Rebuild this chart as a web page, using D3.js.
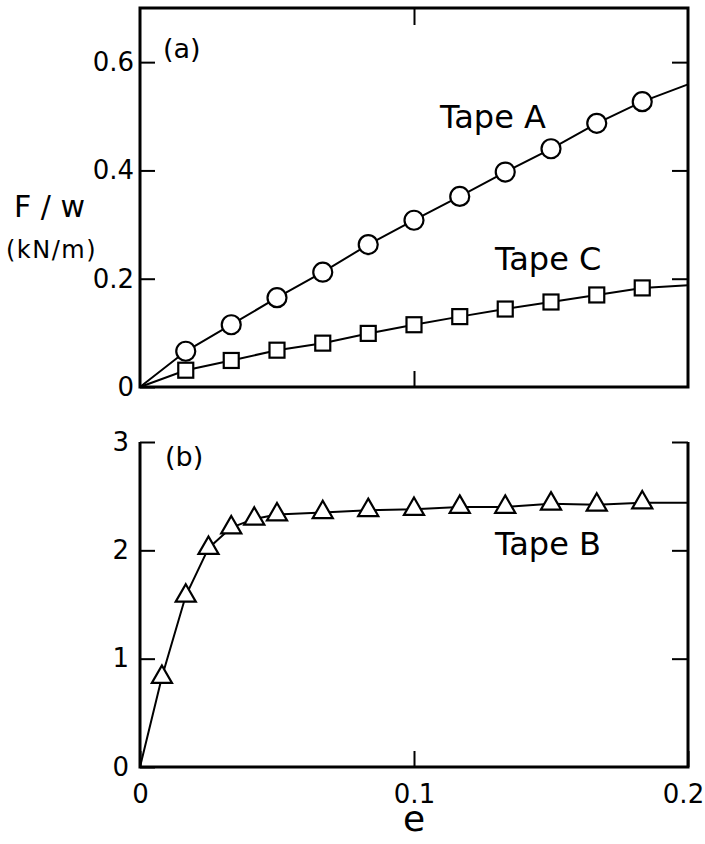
<!DOCTYPE html>
<html>
<head>
<meta charset="utf-8">
<script src="https://cdn.jsdelivr.net/npm/d3@7"></script>
<style>
  body { margin: 0; background: #fff; }
  svg text { font-family: "DejaVu Sans", sans-serif; fill: #000; }
</style>
</head>
<body>
<div id="chart"></div>
<script>
// strain values (e) of the markers
const eAC = [0.0167, 0.0333, 0.05, 0.0667, 0.0833, 0.1, 0.1167, 0.1333, 0.15, 0.1667, 0.1833];
const eB = [0.008, 0.0167, 0.025, 0.0333, 0.0417, 0.05, 0.0667, 0.0833, 0.1, 0.1167, 0.1333, 0.15, 0.1667, 0.1833];

// F/w in kN/m
const tapeA = [0.066, 0.115, 0.165, 0.212, 0.263, 0.308, 0.352, 0.397, 0.440, 0.487, 0.527];
const tapeC = [0.031, 0.049, 0.068, 0.081, 0.099, 0.115, 0.130, 0.144, 0.157, 0.170, 0.183];
const tapeB = [0.83, 1.58, 2.02, 2.21, 2.29, 2.33, 2.35, 2.37, 2.38, 2.40, 2.40, 2.43, 2.42, 2.44];

// where the drawn lines leave the frame at e = 0.2
const lineEnd = {A: 0.559, C: 0.188, B: 2.44};

// ticks
const xTicks = [0, 0.1, 0.2];
const yTicksA = [0, 0.2, 0.4, 0.6];
const yTicksB = [0, 1, 2, 3];

const width = 705, height = 844;

const svg = d3.select("#chart")
  .append("svg")
  .attr("width", width)
  .attr("height", height);

// scales
const x = d3.scaleLinear().domain([0, 0.2]).range([140, 688]);
const yA = d3.scaleLinear().domain([0, 0.7]).range([387, 8]);
const yB = d3.scaleLinear().domain([0, 3]).range([767, 442]);

const tickFmt = d => d === 0 ? "0" : d3.format("")(d);

function styleAxis(g, fs) {
  g.select(".domain").remove();
  g.selectAll(".tick line").attr("stroke", "#000").attr("stroke-width", 2);
  g.selectAll(".tick text").attr("font-size", fs).attr("fill", "#000")
    .style("font-family", '"DejaVu Sans", sans-serif');
}

//---------- panel (a)
svg.append("rect")
  .attr("x", x(0)).attr("y", yA(0.7))
  .attr("width", x(0.2) - x(0)).attr("height", yA(0) - yA(0.7))
  .attr("fill", "none").attr("stroke", "#000").attr("stroke-width", 3);

svg.append("g")
  .attr("transform", `translate(${x(0)},0)`)
  .call(d3.axisLeft(yA).tickValues(yTicksA).tickSize(-15).tickPadding(6).tickFormat(tickFmt))
  .call(g => styleAxis(g, 26));

svg.append("g")
  .attr("transform", `translate(${x(0.2)},0)`)
  .call(d3.axisRight(yA).tickValues(yTicksA.slice(1)).tickSize(-16).tickFormat(""))
  .call(g => styleAxis(g, 26));

svg.append("g")
  .attr("transform", `translate(0,${yA(0.7)})`)
  .call(d3.axisTop(x).tickValues([0.1]).tickSize(-17).tickFormat(""))
  .call(g => styleAxis(g, 26));

svg.append("g")
  .attr("transform", `translate(0,${yA(0)})`)
  .call(d3.axisBottom(x).tickValues([0.1]).tickSize(-16).tickFormat(""))
  .call(g => styleAxis(g, 26));

const lineA = d3.line().x(d => x(d[0])).y(d => yA(d[1]));

const ptsA = eAC.map((e, i) => [e, tapeA[i]]);
const ptsC = eAC.map((e, i) => [e, tapeC[i]]);

svg.append("path")
  .datum([[0, 0], ...ptsA, [0.2, lineEnd.A]])
  .attr("d", lineA)
  .attr("fill", "none").attr("stroke", "#000").attr("stroke-width", 2);

svg.append("path")
  .datum([[0, 0], ...ptsC, [0.2, lineEnd.C]])
  .attr("d", lineA)
  .attr("fill", "none").attr("stroke", "#000").attr("stroke-width", 2);

svg.selectAll(".ptA")
  .data(ptsA)
  .enter().append("circle")
  .attr("class", "ptA")
  .attr("cx", d => x(d[0])).attr("cy", d => yA(d[1]))
  .attr("r", 9.5)
  .attr("fill", "#fff").attr("stroke", "#000").attr("stroke-width", 2.2);

svg.selectAll(".ptC")
  .data(ptsC)
  .enter().append("rect")
  .attr("class", "ptC")
  .attr("x", d => x(d[0]) - 7.5).attr("y", d => yA(d[1]) - 7.5)
  .attr("width", 15).attr("height", 15)
  .attr("fill", "#fff").attr("stroke", "#000").attr("stroke-width", 2.2);

svg.append("text").attr("x", 163).attr("y", 58).attr("font-size", 27).text("(a)");
svg.append("text").attr("x", 440).attr("y", 128).attr("font-size", 32).text("Tape A");
svg.append("text").attr("x", 495).attr("y", 270).attr("font-size", 32).text("Tape C");

// y label
svg.append("text").attr("x", 14).attr("y", 217).attr("font-size", 30).text("F / w");
svg.append("text").attr("x", 6).attr("y", 258).attr("font-size", 24)
  .attr("letter-spacing", 1.5).text("(kN/m)");

//---------- panel (b)
svg.append("path")
  .attr("d", `M${x(0)},${yB(3)}V${yB(0)}H${x(0.2)}V${yB(3)}`)
  .attr("fill", "none").attr("stroke", "#000").attr("stroke-width", 3);

svg.append("g")
  .attr("transform", `translate(${x(0)},0)`)
  .call(d3.axisLeft(yB).tickValues(yTicksB).tickSize(-15).tickPadding(11).tickFormat(tickFmt))
  .call(g => styleAxis(g, 26));

svg.append("g")
  .attr("transform", `translate(${x(0.2)},0)`)
  .call(d3.axisRight(yB).tickValues(yTicksB.slice(1)).tickSize(-16).tickFormat(""))
  .call(g => styleAxis(g, 26));

svg.append("g")
  .attr("transform", `translate(0,${yB(0)})`)
  .call(d3.axisBottom(x).tickValues(xTicks).tickSize(-16).tickPadding(18).tickFormat(tickFmt))
  .call(g => styleAxis(g, 26))
  .call(g => g.selectAll(".tick text").filter(d => d === 0.2).attr("dx", -5));

const lineB = d3.line().x(d => x(d[0])).y(d => yB(d[1]));
const ptsB = eB.map((e, i) => [e, tapeB[i]]);

svg.append("path")
  .datum([[0, 0], ...ptsB, [0.2, lineEnd.B]])
  .attr("d", lineB)
  .attr("fill", "none").attr("stroke", "#000").attr("stroke-width", 2);

svg.selectAll(".ptB")
  .data(ptsB)
  .enter().append("path")
  .attr("class", "ptB")
  .attr("transform", d => `translate(${x(d[0])},${yB(d[1])})`)
  .attr("d", d3.symbol(d3.symbolTriangle, 175))
  .attr("fill", "#fff").attr("stroke", "#000").attr("stroke-width", 2.2);

svg.append("text").attr("x", 165).attr("y", 466).attr("font-size", 27).text("(b)");
svg.append("text").attr("x", 495).attr("y", 555).attr("font-size", 32).text("Tape B");

// x label
svg.append("text").attr("x", x(0.1)).attr("y", 831).attr("font-size", 36)
  .attr("text-anchor", "middle").text("e");
</script>
</body>
</html>
